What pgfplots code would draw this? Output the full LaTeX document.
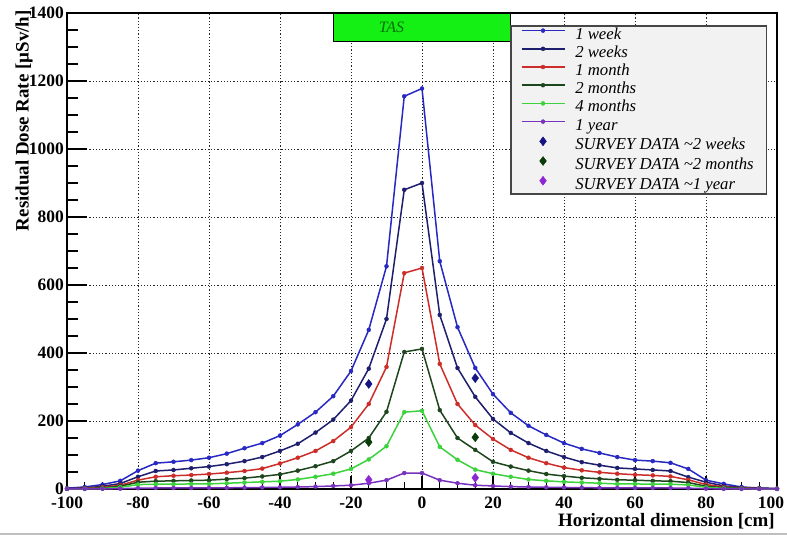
\documentclass[border=0pt]{standalone}
\usepackage{fontspec}
\setmainfont{Liberation Serif}
\usepackage{pgfplots}
\usepackage{pgfplotstable}
\pgfplotsset{compat=1.18}
\definecolor{cwa}{RGB}{40,40,195}
\definecolor{cwb}{RGB}{30,30,110}
\definecolor{cma}{RGB}{205,45,40}
\definecolor{cmb}{RGB}{30,70,30}
\definecolor{cmd}{RGB}{60,210,60}
\definecolor{cya}{RGB}{120,50,190}
\definecolor{svb}{RGB}{20,20,130}
\definecolor{svg}{RGB}{10,60,10}
\definecolor{svp}{RGB}{140,40,210}
\definecolor{tasfill}{RGB}{20,240,20}
\definecolor{tastext}{RGB}{10,110,10}
\definecolor{legfill}{RGB}{242,242,242}
\definecolor{legdraw}{RGB}{70,70,70}

\pgfplotstableread{
x     w1    w2   m1   m2   m4   y1
-100  2.5   1    1    0.5  0.3  0.1
-95   6     3    2    1    0.6  0.2
-90   13    8    5    3    1.5  0.4
-85   24    16   11   8    5    1
-80   54    36   26   20   13   2.5
-75   76    53   36   23   14   3
-70   80    56   39   24   14   3
-65   85    61   41   25   15   3
-60   92    66   44   26   15   3.2
-55   104   73   48   29   17   3.5
-50   120   82   53   32   19   4
-45   135   94   60   37   21   4.5
-40   157   112  75   43   23   5
-35   190   133  92   54   28   6
-30   226   166  112  67   36   7
-25   273   204  141  82   45   9
-20   347   260  182  112  59   11
-15   468   354  250  150  87   17
-10   655   500  359  227  126  26
-5    1155  880  635  403  226  47
0     1178  900  650  412  230  47
5     670   512  368  232  124  26
10    476   356  250  150  86   17
15    356   271  188  115  57   11
20    279   206  147  80   45   9
25    224   165  115  66   36   7
30    186   135  92   54   28   6
35    159   112  76   44   24   5
40    135   94   63   38   21   4.5
45    118   79   55   33   19   4
50    106   70   49   30   17   3.5
55    94    62   45   27   15   3.2
60    85    59   42   26   15   3
65    82    56   40   24   14   3
70    77    53   37   23   14   3
75    59    35   27   19   12   2.5
80    26    20   13   8    5    1
85    15    9    6    4    2    0.4
90    6     4    3    2    1    0.2
95    3     2    1.5  1    0.5  0.1
100   1.5   1    1    0.5  0.3  0.1
}\dosedata

\pgfplotstableread{
x    sw2  sm2  sy1
-15  309  138  27
15   326  152  33
}\surveydata

\begin{document}
\begin{tikzpicture}
\path[use as bounding box, fill=white] (-67bp,-46bp) rectangle (720bp,489bp);
\draw[gray!50, line width=2bp] (-67bp,-44.8bp) -- (720bp,-44.8bp);
\begin{axis}[
  at={(0bp,0bp)}, anchor=south west,
  scale only axis, width=710bp, height=476bp,
  xmin=-100, xmax=100, ymin=0, ymax=1400,
  xtick={-100,-80,...,100}, ytick={0,200,...,1400},
  xticklabels={-100,-80,-60,-40,-20,0,20,40,60,80,\hspace*{-12bp}100},
  minor x tick num=3, minor y tick num=3,
  tick align=inside, tick pos=left,
  xtick style={/pgfplots/major tick length=13bp, /pgfplots/minor tick length=7bp},
  ytick style={/pgfplots/major tick length=20bp, /pgfplots/minor tick length=11bp},
  every tick/.style={black, line width=1.1bp},
  grid=major,
  major grid style={black!85, dash pattern=on 1.2bp off 2bp, line width=0.8bp},
  axis line style={line width=1.5bp, black},
  scaled ticks=false,
  /pgf/number format/assume math mode=true,
  /pgf/number format/set thousands separator={},
  ticklabel style={font=\fontsize{17.5}{20}\selectfont\bfseries},
  yticklabel style={inner sep=0pt, anchor=east, xshift=-3bp},
  xticklabel style={inner sep=0pt, anchor=north, yshift=-8bp},
  xlabel={Horizontal dimension [cm]},
  ylabel={Residual Dose Rate [µSv/h]},
  label style={font=\fontsize{19}{22}\selectfont\bfseries},
  xlabel style={at={(axis description cs:0.997,-0.051)}, anchor=north east, inner sep=0pt},
  ylabel style={at={(axis description cs:-0.048,1.006)}, anchor=south east, inner sep=0pt},
  legend cell align=left,
  legend style={at={(axis description cs:0.624,0.974)}, anchor=north west,
    fill=legfill, draw=legdraw, line width=1.5bp,
    font=\fontsize{16.8}{18.5}\selectfont\itshape,
    inner xsep=10bp, inner ysep=1.5bp, row sep=3.2bp,
    nodes={inner sep=0pt, text height=11.5bp, text depth=3.5bp},
    /tikz/every odd column/.append style={column sep=10bp}},
  legend image code/.code={\draw[mark repeat=2,mark phase=2,#1] plot coordinates {(0bp,4.5bp) (21.5bp,4.5bp) (43bp,4.5bp)};},
]
\addplot[forget plot, draw=black, line width=1.2bp, fill=tasfill] coordinates {(-25,1315) (25,1315) (25,1400) (-25,1400)} -- cycle;
\node[font=\fontsize{16}{18}\selectfont\itshape, text=tastext] at (axis cs:-8.6,1357) {TAS};

\addplot[cwa, line width=1.5bp, mark=*, mark size=2bp, mark options={line width=0.4bp}] table[x=x, y=w1] {\dosedata};
\addlegendentry{1 week}
\addplot[cwb, line width=1.5bp, mark=*, mark size=2bp, mark options={line width=0.4bp}] table[x=x, y=w2] {\dosedata};
\addlegendentry{2 weeks}
\addplot[cma, line width=1.5bp, mark=*, mark size=2bp, mark options={line width=0.4bp}] table[x=x, y=m1] {\dosedata};
\addlegendentry{1 month}
\addplot[cmb, line width=1.5bp, mark=*, mark size=2bp, mark options={line width=0.4bp}] table[x=x, y=m2] {\dosedata};
\addlegendentry{2 months}
\addplot[cmd, line width=1.5bp, mark=*, mark size=2bp, mark options={line width=0.4bp}] table[x=x, y=m4] {\dosedata};
\addlegendentry{4 months}
\addplot[cya, line width=1.5bp, mark=*, mark size=2bp, mark options={line width=0.4bp}] table[x=x, y=y1] {\dosedata};
\addlegendentry{1 year}

\addplot[svb, only marks, mark=diamond*, mark size=4.5bp, mark options={line width=0.4bp}] table[x=x, y=sw2] {\surveydata};
\addlegendentry{SURVEY DATA \textasciitilde2 weeks}
\addplot[svg, only marks, mark=diamond*, mark size=4.5bp, mark options={line width=0.4bp}] table[x=x, y=sm2] {\surveydata};
\addlegendentry{SURVEY DATA \textasciitilde2 months\hspace*{3bp}}
\addplot[svp, only marks, mark=diamond*, mark size=4.5bp, mark options={line width=0.4bp}] table[x=x, y=sy1] {\surveydata};
\addlegendentry{SURVEY DATA \textasciitilde1 year}
\end{axis}
\end{tikzpicture}
\end{document}
